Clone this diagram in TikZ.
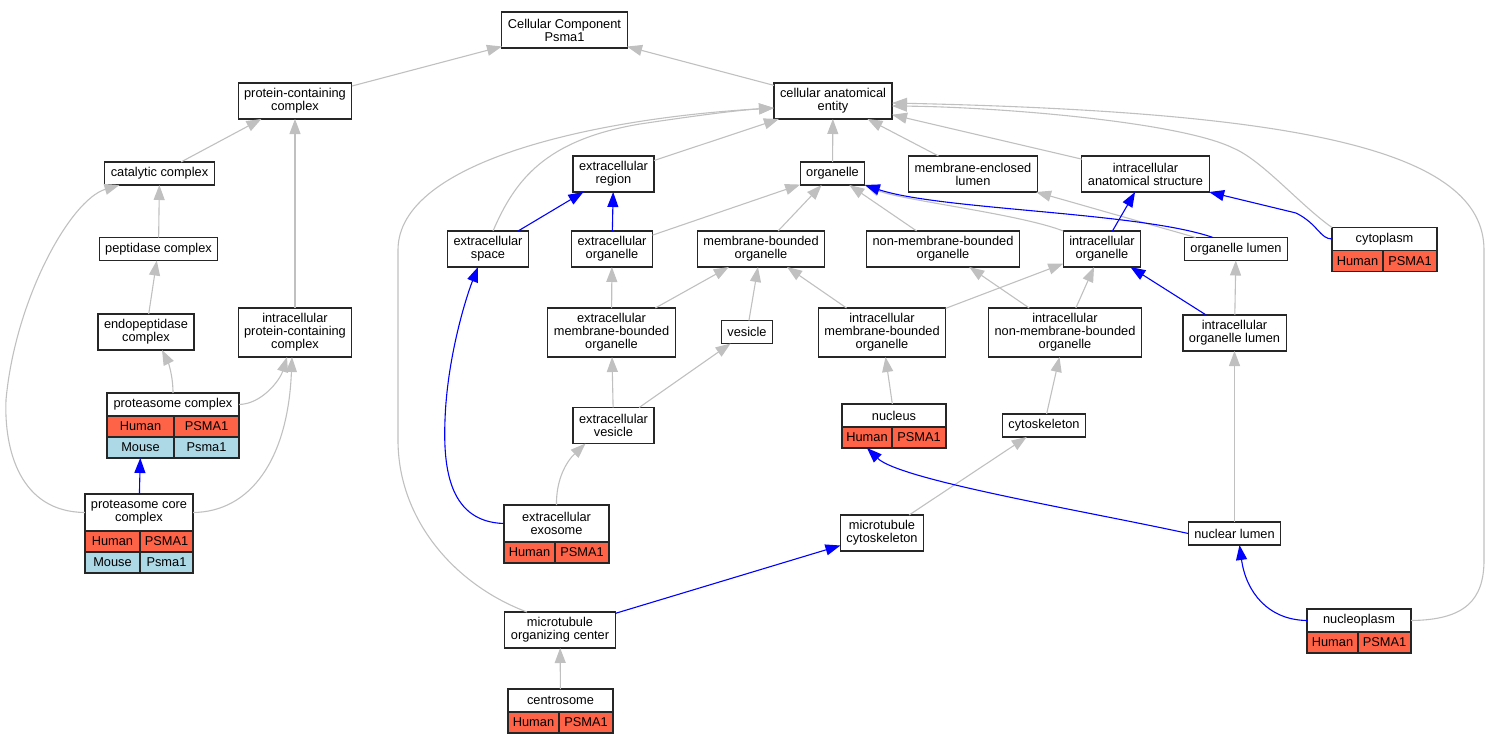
\documentclass[tikz,border=0pt]{standalone}
\usepackage{fontspec}
\setmainfont{Liberation Sans}
\usetikzlibrary{arrows.meta,positioning}
\definecolor{edgegray}{RGB}{192,192,192}
\definecolor{humanred}{RGB}{255,99,71}
\definecolor{mouseblue}{RGB}{173,216,230}

\begin{document}
\begin{tikzpicture}[x=1pt,y=-1pt,
    term/.style={draw=black!85, line width=1.1pt, fill=white, inner xsep=6pt, inner ysep=2pt,
        outer sep=0pt, minimum height=23pt, align=center, font=\fontsize{12.8}{13}\selectfont},
    two/.style={minimum height=36pt},
    three/.style={minimum height=49pt},
    cell/.style={draw=black!85, line width=1.1pt, inner sep=0pt, outer sep=0pt, minimum height=21pt,
        font=\fontsize{12.8}{13}\selectfont},
    human/.style={cell, fill=humanred},
    mouse/.style={cell, fill=mouseblue},
    isa/.style={draw=edgegray, line width=1.1pt, -{Triangle[length=15pt,width=11pt]}},
    partof/.style={isa, draw=blue}]
    \useasboundingbox (0,0) rectangle (1492,744);

    % terms
    \node[term,two] at (564.5,30)    (CC)    {Cellular Component\\Psma1};
    \node[term,two] at (833,101)     (cae)   {cellular anatomical\\entity};
    \node[term,two] at (295,101)     (pcc)   {protein-containing\\complex};
    \node[term] at (159.5,173.5)     (cat)   {catalytic complex};
    \node[term] at (158.5,249)       (pep)   {peptidase complex};
    \node[term,two] at (146,332)     (endo)  {endopeptidase\\complex};
    \node[term,three] at (295,332.5) (ipcc)  {intracellular\\protein-containing\\complex};
    \node[term,two] at (613.5,174)   (er)    {extracellular\\region};
    \node[term,two] at (488,249)     (es)    {extracellular\\space};
    \node[term,two] at (612,249)     (eo)    {extracellular\\organelle};
    \node[term] at (832.5,173.5)     (org)   {organelle};
    \node[term,two] at (973,174)     (mel)   {membrane-enclosed\\lumen};
    \node[term,two] at (1145.5,174)  (ias)   {intracellular\\anatomical structure};
    \node[term,two] at (761,249)     (mbo)   {membrane-bounded\\organelle};
    \node[term,two] at (943,249)     (nmbo)  {non-membrane-bounded\\organelle};
    \node[term,two] at (1102,249)    (io)    {intracellular\\organelle};
    \node[term] at (1236,249)        (ol)    {organelle lumen};
    \node[term,three] at (611.5,332.5) (embo) {extracellular\\membrane-bounded\\organelle};
    \node[term] at (747,332)         (ves)   {vesicle};
    \node[term,three] at (882,332.5) (imbo)  {intracellular\\membrane-bounded\\organelle};
    \node[term,three] at (1065,332.5) (inmbo) {intracellular\\non-membrane-bounded\\organelle};
    \node[term,two] at (1234.5,333)  (iol)   {intracellular\\organelle lumen};
    \node[term,two] at (613.5,425.5) (ev)    {extracellular\\vesicle};
    \node[term] at (1044,425.5)      (csk)   {cytoskeleton};
    \node[term,two] at (882,533)     (mtc)   {microtubule\\cytoskeleton};
    \node[term] at (1234.5,533.5)    (nl)    {nuclear lumen};
    \node[term,two] at (560,630)     (mtoc)  {microtubule\\organizing center};

    % terms with genes
    \node[term,minimum width=132pt] at (173,404.5) (pc) {proteasome complex};
    \node[human,minimum width=67pt,below right=0pt of pc.south west] (pc-h) {Human};
    \node[human,minimum width=65pt,right=0pt of pc-h] (pc-g) {PSMA1};
    \node[mouse,minimum width=67pt,below right=0pt of pc-h.south west] (pc-mh) {Mouse};
    \node[mouse,minimum width=65pt,right=0pt of pc-mh] (pc-mg) {Psma1};

    \node[term,minimum width=108pt,minimum height=37pt] at (139,512.5) (pcore) {proteasome core\\complex};
    \node[human,minimum width=55pt,below right=0pt of pcore.south west] (pcore-h) {Human};
    \node[human,minimum width=53pt,right=0pt of pcore-h] (pcore-g) {PSMA1};
    \node[mouse,minimum width=55pt,below right=0pt of pcore-h.south west] (pcore-mh) {Mouse};
    \node[mouse,minimum width=53pt,right=0pt of pcore-mh] (pcore-mg) {Psma1};

    \node[term,minimum width=105pt] at (1384.5,239) (cyto) {cytoplasm};
    \node[human,minimum width=51pt,below right=0pt of cyto.south west] (cyto-h) {Human};
    \node[human,minimum width=54pt,right=0pt of cyto-h] (cyto-g) {PSMA1};

    \node[term,minimum width=104pt] at (894,415.5) (nuc) {nucleus};
    \node[human,minimum width=50pt,below right=0pt of nuc.south west] (nuc-h) {Human};
    \node[human,minimum width=54pt,right=0pt of nuc-h] (nuc-g) {PSMA1};

    \node[term,minimum width=105pt,minimum height=37pt] at (556.5,523.5) (exo) {extracellular\\exosome};
    \node[human,minimum width=51pt,below right=0pt of exo.south west] (exo-h) {Human};
    \node[human,minimum width=54pt,right=0pt of exo-h] (exo-g) {PSMA1};

    \node[term,minimum width=105pt] at (560.5,700.5) (cent) {centrosome};
    \node[human,minimum width=51pt,below right=0pt of cent.south west] (cent-h) {Human};
    \node[human,minimum width=54pt,right=0pt of cent-h] (cent-g) {PSMA1};

    \node[term,minimum width=104pt] at (1359,620.5) (nucp) {nucleoplasm};
    \node[human,minimum width=51pt,below right=0pt of nucp.south west] (nucp-h) {Human};
    \node[human,minimum width=53pt,right=0pt of nucp-h] (nucp-g) {PSMA1};

    % is a
    \draw[isa] (cae) -- (CC);
    \draw[isa] (pcc) -- (CC);
    \draw[isa] (cat) -- (pcc);
    \draw[isa] (ipcc) -- (pcc);
    \draw[isa] (pep) -- (cat);
    \draw[isa] (endo) -- (pep);
    \draw[isa] (er) -- (cae);
    \draw[isa] (org) -- (cae);
    \draw[isa] (mel) -- (cae);
    \draw[isa] (ias) -- (cae);
    \draw[isa] (eo) -- (org);
    \draw[isa] (mbo) -- (org);
    \draw[isa] (nmbo) -- (org);
    \draw[isa] (ol) -- (mel);
    \draw[isa] (embo) -- (eo);
    \draw[isa] (embo) -- (mbo);
    \draw[isa] (ves) -- (mbo);
    \draw[isa] (imbo) -- (mbo);
    \draw[isa] (imbo) -- (io);
    \draw[isa] (inmbo) -- (nmbo);
    \draw[isa] (inmbo) -- (io);
    \draw[isa] (iol) -- (ol);
    \draw[isa] (ev) -- (embo);
    \draw[isa] (ev) -- (ves);
    \draw[isa] (nuc) -- (imbo);
    \draw[isa] (csk) -- (inmbo);
    \draw[isa] (mtc) -- (csk);
    \draw[isa] (nl) -- (iol);
    \draw[isa] (cent) -- (mtoc);
    \draw[isa] (pc.north) .. controls (173,375) and (168,362) .. ([xshift=16pt]endo.south);
    \draw[isa] (pc.east) .. controls (262,404) and (280,380) .. ([xshift=-8pt]ipcc.south);
    \draw[isa] (pcore.east) .. controls (250,512) and (288,460) .. ([xshift=-3pt]ipcc.south);
    \draw[isa] (pcore.west) .. controls (20,512) and (4,450) .. (6,400)
        .. controls (15,300) and (70,200) .. ([xshift=-40pt]cat.south);
    \draw[isa] ([xshift=5pt]es.north) .. controls (515,180) and (545,140) .. (640,124)
        .. controls (700,115) and (740,110) .. ([yshift=-7pt]cae.west);
    \draw[isa] ([xshift=-33pt]mtoc.north) .. controls (455,585) and (398,520) .. (398,440)
        -- (398,250) .. controls (398,160) and (600,118) .. ([yshift=-7pt]cae.west);
    \draw[isa] (cyto.north west) .. controls (1300,205) and (1262,160) .. (1233,148)
        .. controls (1180,122) and (1000,107) .. ([yshift=-5pt]cae.east);
    \draw[isa] (nucp.east) .. controls (1465,620) and (1484,600) .. (1484,560)
        -- (1484,250) .. controls (1484,150) and (1300,112) .. ([yshift=-2pt]cae.east);
    \draw[isa] (io.north west) .. controls (1020,214) and (900,200) .. (org.south east);
    \draw[isa] (exo.north) .. controls (556,480) and (566,462) .. ([xshift=-28pt]ev.south);

    % part of
    \draw[partof] (pcore) -- (pc-mh);
    \draw[partof] (eo) -- (er);
    \draw[partof] (es) -- (er);
    \draw[partof] (io) -- (ias);
    \draw[partof] (iol) -- (io);
    \draw[partof] (mtoc) -- (mtc);
    \draw[partof] ([xshift=-23pt]ol.north) .. controls (1140,212) and (940,210) .. (org.south east);
    \draw[partof] (cyto.west) .. controls (1320,239) and (1318,224) .. (1296,213) -- (ias.south east);
    \draw[partof] (exo.west) .. controls (450,522) and (443,470) .. (445,420)
        .. controls (447,360) and (465,300) .. ([xshift=-10pt]es.south);
    \draw[partof] (nl.west) .. controls (1080,510) and (900,480) .. (nuc-h.south);
    \draw[partof] (nucp.west) .. controls (1268,620) and (1246,592) .. ([xshift=5pt]nl.south);
\end{tikzpicture}
\end{document}
